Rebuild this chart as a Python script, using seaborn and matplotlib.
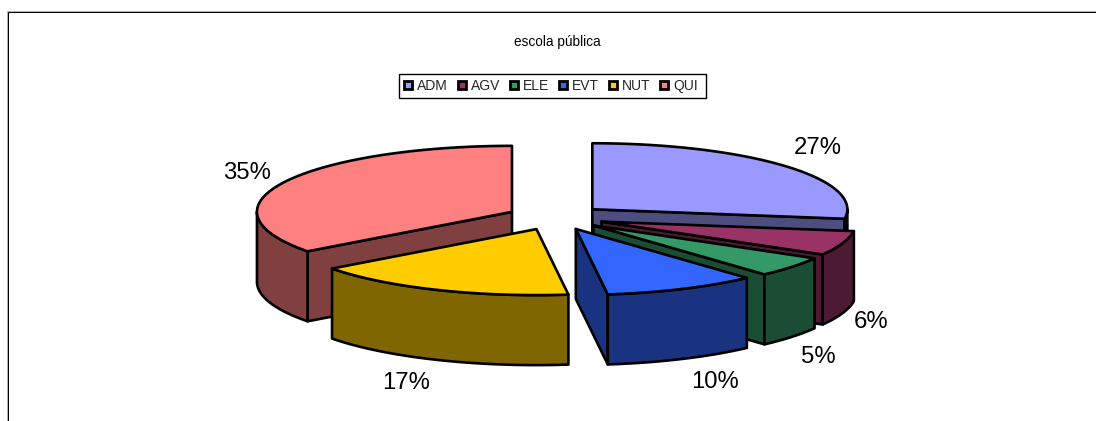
import numpy as np
import matplotlib
matplotlib.use("Agg")
import matplotlib.pyplot as plt
from matplotlib.patches import Patch, Polygon, Rectangle
import seaborn as sns

# data
categories = ["ADM", "AGV", "ELE", "EVT", "NUT", "QUI"]
percents = [27.3, 6.0, 5.0, 9.7, 16.8, 35.2]
slice_colors = ["#9999FF", "#993366", "#339966", "#3366FF", "#FFCC00", "#FF8080"]
chart_title = "escola pública"

# pie geometry, in pixels of the picture
cx, cy = 555.5, 217.5
rx, ry = 255.0, 66.0
explode = 48.7
depth = 70.0
label_pos = [(818, 148), (871, 322), (818, 357), (715, 382), (406, 383), (247, 173)]

sns.set_theme(style="white")
plt.rcParams["font.family"] = ["Liberation Sans", "DejaVu Sans"]

fig = plt.figure(figsize=(10.96, 4.21), dpi=100)
ax = fig.add_axes([0, 0, 1, 1])
ax.set_xlim(0, 1096)
ax.set_ylim(421, 0)
ax.axis("off")

# chart frame: only the top and left sides show in the crop, grey then black
ax.plot([6.5, 6.5, 1096], [421, 10.5, 10.5], color="#b0b0b0", lw=0.72, solid_joinstyle="miter")
ax.plot([7.5, 7.5, 1096], [421, 11.5, 11.5], color="black", lw=0.72, solid_joinstyle="miter")


def ell(ax0, ay0, theta):
    return ax0 + rx * np.sin(theta), ay0 - ry * np.cos(theta)


def draw_slice(start, end, color, z):
    mid = (start + end) / 2
    ax0 = cx + explode * np.sin(mid)
    ay0 = cy - explode * ry / rx * np.cos(mid)
    dark = tuple(c / 2 for c in sns.color_palette([color])[0])
    kw = dict(fc=dark, ec="black", lw=1.9, joinstyle="round", zorder=z)

    # flat cut faces that look to the viewer
    if np.sin(start) < 0:
        p = ell(ax0, ay0, start)
        ax.add_patch(Polygon([(ax0, ay0), p, (p[0], p[1] + depth), (ax0, ay0 + depth)], **kw))
    if np.sin(end) > 0:
        p = ell(ax0, ay0, end)
        ax.add_patch(Polygon([(ax0, ay0), p, (p[0], p[1] + depth), (ax0, ay0 + depth)], **kw))

    # outer rim, only the part in the front half
    a = max(start, np.pi / 2)
    b = min(end, 3 * np.pi / 2)
    if b > a:
        t = np.linspace(a, b, 80)
        x, y = ell(ax0, ay0, t)
        pts = np.r_[np.c_[x, y], np.c_[x, y + depth][::-1]]
        ax.add_patch(Polygon(pts, **kw))

    # top
    t = np.linspace(start, end, 160)
    x, y = ell(ax0, ay0, t)
    pts = np.r_[[(ax0, ay0)], np.c_[x, y]]
    ax.add_patch(Polygon(pts, fc=color, ec="black", lw=1.9, joinstyle="round", zorder=z + 0.5))


edges = np.cumsum([0] + percents) / sum(percents) * 2 * np.pi
# back slices first
order = [0, 5, 1, 2, 3, 4]
for z, i in enumerate(order):
    draw_slice(edges[i], edges[i + 1], slice_colors[i], z + 1)

for (lx, ly), v in zip(label_pos, percents):
    ax.text(lx, ly, f"{v:.0f}%", ha="center", va="center", fontsize=17.2, color="black", zorder=20)

ax.text(557, 42, chart_title, ha="center", va="center", fontsize=9.8, color="black")

# legend box is drawn apart, it has more room on the right than the entries need
ax.add_patch(Rectangle((398.5, 73.5), 307, 24, fc="white", ec="black", lw=1, zorder=21))
handles = [Patch(fc=c, ec="black", lw=2) for c in slice_colors]
leg = ax.legend(handles, categories, ncols=6, loc="center", bbox_to_anchor=(551, 86),
                bbox_transform=ax.transData, fontsize=10, frameon=False,
                handlelength=0.58, handleheight=0.58,
                handletextpad=0.37, columnspacing=0.69, borderpad=0, borderaxespad=0)
leg.set_zorder(22)

fig.savefig("out.png", dpi=100, facecolor="white")
